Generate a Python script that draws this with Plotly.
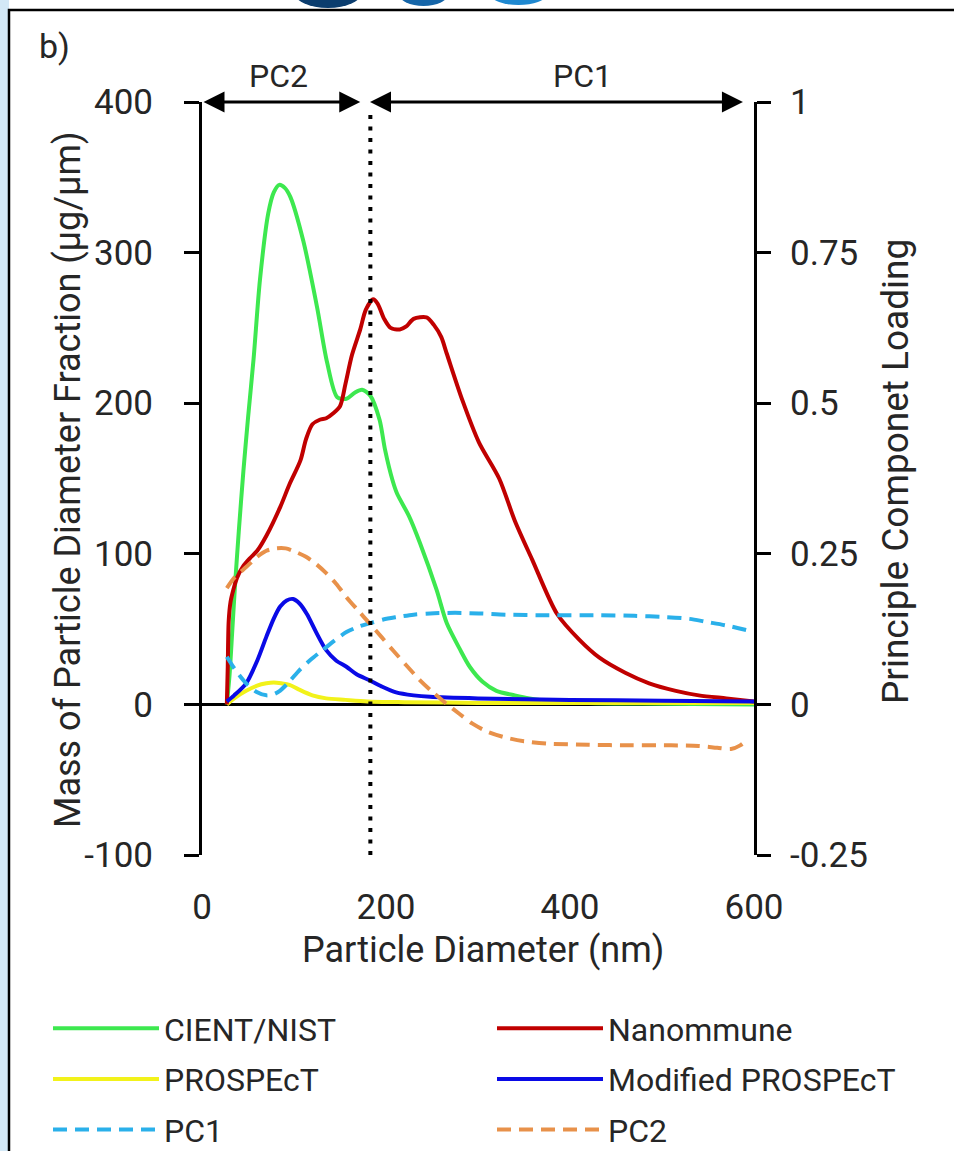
import plotly.graph_objects as go

# ---------------- data ----------------
cient_x = [27, 30, 33, 36, 40, 45, 50, 56, 63, 72, 78, 84, 90, 96, 110, 125, 136, 147, 157, 166, 174, 183, 193, 199, 207, 212, 225, 237, 255, 266, 280, 291, 305, 320, 340, 356, 380, 420, 500, 600]
cient_y = [0, 20, 50, 80, 115, 155, 190, 229, 282, 326, 340, 345, 343, 337, 308, 264, 227, 204, 203, 207, 209, 205, 189, 169, 149, 140, 125, 107, 76, 54, 37, 25, 15, 9, 6, 4, 2, 1, 0.5, 0]

nano_x = [27, 28, 29, 31, 34, 38, 45, 52, 60, 70, 85, 95, 107, 113, 120, 128, 135, 142, 150, 156, 163, 172, 178, 186, 191, 198, 205, 215, 222, 230, 244, 252, 260, 266, 283, 301, 323, 340, 359, 386, 410, 432, 460, 486, 515, 540, 570, 600]
nano_y = [0, 25, 55, 68, 76, 84, 92, 97, 102, 112, 131, 146, 162, 176, 186, 189, 190, 193, 198, 213, 232, 249, 262, 269, 266, 256, 250, 249, 251, 256, 257, 252, 244, 233, 202, 174, 150, 122, 96, 60, 43, 31, 21, 14, 9, 6, 4, 2]

pros_x = [27, 35, 48, 60, 70, 78, 86, 95, 105, 120, 135, 156, 180, 220, 300, 400, 600]
pros_y = [0, 4, 9, 12.5, 14, 14.5, 14, 13, 10, 6, 4, 3, 2, 1.5, 1, 1, 1]

mod_x = [27, 35, 48, 60, 70, 78, 85, 92, 99, 106, 114, 124, 135, 146, 157, 168, 182, 195, 211, 230, 248, 300, 400, 500, 600]
mod_y = [2, 6, 14, 29, 45, 57, 65, 69, 70, 67, 60, 48, 36, 29, 25, 20, 16, 12, 8, 6, 5, 4, 3, 2.5, 2]

pc1_x = [27, 35, 48, 60, 70, 78, 85, 95, 106, 118, 131, 144, 157, 170, 183, 197, 212, 230, 248, 275, 301, 330, 370, 432, 470, 504, 530, 548, 570, 593]
pc1_y = [0.079, 0.06, 0.035, 0.02, 0.015, 0.017, 0.023, 0.038, 0.057, 0.074, 0.09, 0.106, 0.12, 0.129, 0.135, 0.141, 0.145, 0.149, 0.151, 0.152, 0.151, 0.149, 0.148, 0.148, 0.147, 0.145, 0.142, 0.137, 0.131, 0.123]

pc2_x = [27, 35, 48, 60, 70, 80, 91, 102, 113, 124, 135, 146, 157, 169, 183, 195, 208, 222, 237, 251, 265, 280, 294, 310, 330, 350, 375, 420, 467, 510, 540, 560, 575, 585, 593]
pc2_y = [0.193, 0.21, 0.228, 0.245, 0.255, 0.259, 0.259, 0.253, 0.245, 0.233, 0.218, 0.2, 0.178, 0.157, 0.133, 0.112, 0.089, 0.065, 0.04, 0.02, 0.002, -0.016, -0.032, -0.045, -0.055, -0.061, -0.065, -0.067, -0.068, -0.068, -0.069, -0.072, -0.074, -0.068, -0.058]

x_ticks = [0, 200, 400, 600]
y_ticks = [-100, 0, 100, 200, 300, 400]
y_labels = ["-100", "0", "100", "200", "300", "400"]
y2_ticks = [-0.25, 0, 0.25, 0.5, 0.75, 1]
y2_labels = ["-0.25", "0", "0.25", "0.5", "0.75", "1"]
split_x = 183

# ---------------- layout constants ----------------
W, H = 954, 1151
L, R, T, B = 202, 754, 102, 855
FONT = "Roboto"
TXT = "#262626"
TICK = 35
TITLE = 36


def px(xp):
    return (xp - L) / (R - L)


def py(yp):
    return (B - yp) / (B - T)


fig = go.Figure()

series = [
    ("CIENT/NIST", cient_x, cient_y, "#3de84f", "solid", "y", "legend"),
    ("PROSPEcT", pros_x, pros_y, "#f2f21a", "solid", "y", "legend"),
    ("PC1", pc1_x, pc1_y, "#2ab0ea", "14px,8px", "y2", "legend"),
    ("Nanommune", nano_x, nano_y, "#c00000", "solid", "y", "legend2"),
    ("Modified PROSPEcT", mod_x, mod_y, "#0a0ae6", "solid", "y", "legend2"),
    ("PC2", pc2_x, pc2_y, "#e8914a", "14px,8px", "y2", "legend2"),
]
for name, xs, ys, col, dash, yax, leg in series:
    fig.add_trace(go.Scatter(
        x=xs, y=ys, name=name, mode="lines", yaxis=yax, legend=leg, legendgroup=name,
        line=dict(color=col, width=4, dash=dash, shape="spline", smoothing=0.8),
    ))

leg_common = dict(
    orientation="v", y=py(1001), xanchor="left", yanchor="top", itemwidth=106,
    font=dict(size=32, family=FONT, color=TXT), bgcolor="rgba(0,0,0,0)",
    traceorder="grouped", tracegroupgap=6,
)

fig.update_layout(
    width=W, height=H,
    margin=dict(l=L, r=W - R, t=T, b=H - B, pad=0, autoexpand=False),
    paper_bgcolor="white", plot_bgcolor="white",
    font=dict(family=FONT, color=TXT, size=32),
    showlegend=True,
    legend=dict(x=px(48), **leg_common),
    legend2=dict(x=px(492), **leg_common),
    xaxis=dict(
        range=[0, 600], tickvals=x_ticks, showgrid=False, zeroline=False, showline=False,
        ticks="", ticklabelstandoff=28, tickfont=dict(size=TICK, family=FONT, color=TXT),
        automargin=False,
    ),
    xaxis2=dict(
        range=[0, 600], overlaying="x", anchor="free", position=0.2, side="bottom",
        tickvals=[200, 400], ticks="outside", ticklen=10, tickwidth=3, tickcolor="black",
        showticklabels=False, showgrid=False, zeroline=False, showline=False,
    ),
    yaxis=dict(
        range=[-100, 400], tickvals=y_ticks, ticktext=y_labels, showgrid=False, automargin=False,
        zeroline=True, zerolinecolor="black", zerolinewidth=3,
        showline=True, linecolor="black", linewidth=3,
        ticks="outside", ticklen=15, tickwidth=3, tickcolor="black",
        ticklabelstandoff=24, tickfont=dict(size=TICK, family=FONT, color=TXT),
    ),
    yaxis2=dict(
        range=[-0.25, 1], tickvals=y2_ticks, ticktext=y2_labels, overlaying="y", side="right",
        showgrid=False, zeroline=False, automargin=False,
        showline=True, linecolor="black", linewidth=3,
        ticks="outside", ticklen=14, tickwidth=3, tickcolor="black",
        ticklabelstandoff=12, tickfont=dict(size=TICK, family=FONT, color=TXT),
    ),
)

# axis titles
fig.add_annotation(x=px(483), y=py(950), xref="paper", yref="paper", text="Particle Diameter (nm)",
                   showarrow=False, font=dict(size=TITLE, family=FONT, color=TXT),
                   xanchor="center", yanchor="middle")
fig.add_annotation(x=px(68), y=py(480), xref="paper", yref="paper",
                   text="Mass of Particle Diameter Fraction (µg/µm)", textangle=-90,
                   showarrow=False, font=dict(size=TITLE, family=FONT, color=TXT),
                   xanchor="center", yanchor="middle")
fig.add_annotation(x=px(895), y=py(472), xref="paper", yref="paper",
                   text="Principle Componet Loading", textangle=-90,
                   showarrow=False, font=dict(size=37, family=FONT, color=TXT),
                   xanchor="center", yanchor="middle")

# dotted divider
fig.add_shape(type="line", xref="x", yref="y", x0=split_x, x1=split_x, y0=-100, y1=395,
              line=dict(color="black", width=4, dash="4px,7.5px"))

# region arrows
for x0, x1, lab, xl in [(0, 172, "PC2", 83), (181, 588, "PC1", 414)]:
    fig.add_annotation(x=x1, y=400, ax=x0, ay=400, xref="x", yref="y", axref="x", ayref="y",
                       text="", showarrow=True, arrowhead=2,
                       arrowside="end+start", arrowsize=1.4, arrowwidth=3, arrowcolor="black",
                       standoff=0, startstandoff=0)
    fig.add_annotation(x=xl, y=py(76), xref="x", yref="paper", text=lab, showarrow=False,
                       font=dict(size=32, family=FONT, color=TXT), yanchor="middle")

fig.add_annotation(x=px(54), y=py(46), xref="paper", yref="paper", text="b)", showarrow=False,
                   font=dict(size=34, family=FONT, color=TXT), xanchor="center", yanchor="middle")

# frame and page decoration
fig.add_shape(type="rect", xref="paper", yref="paper", x0=px(0), x1=px(9), y0=py(1160), y1=py(0),
              line=dict(width=0), fillcolor="#d3e8f6", layer="below")
fig.add_shape(type="rect", xref="paper", yref="paper", x0=px(9), x1=px(980), y0=py(1180), y1=py(10),
              line=dict(color="black", width=2.5), fillcolor="rgba(0,0,0,0)")
for cx0, cx1, hh, col in [(294, 362, 8, "#0b3d6e"), (399, 448, 6, "#1565a8"), (491, 546, 5, "#1e88d0")]:
    fig.add_shape(type="circle", xref="paper", yref="paper", x0=px(cx0), x1=px(cx1),
                  y0=py(hh), y1=py(-3 * hh), line=dict(width=0), fillcolor=col, layer="below")

fig.write_html("out.html", post_script="document.body.style.margin='0';",
               config={"displayModeBar": False})
